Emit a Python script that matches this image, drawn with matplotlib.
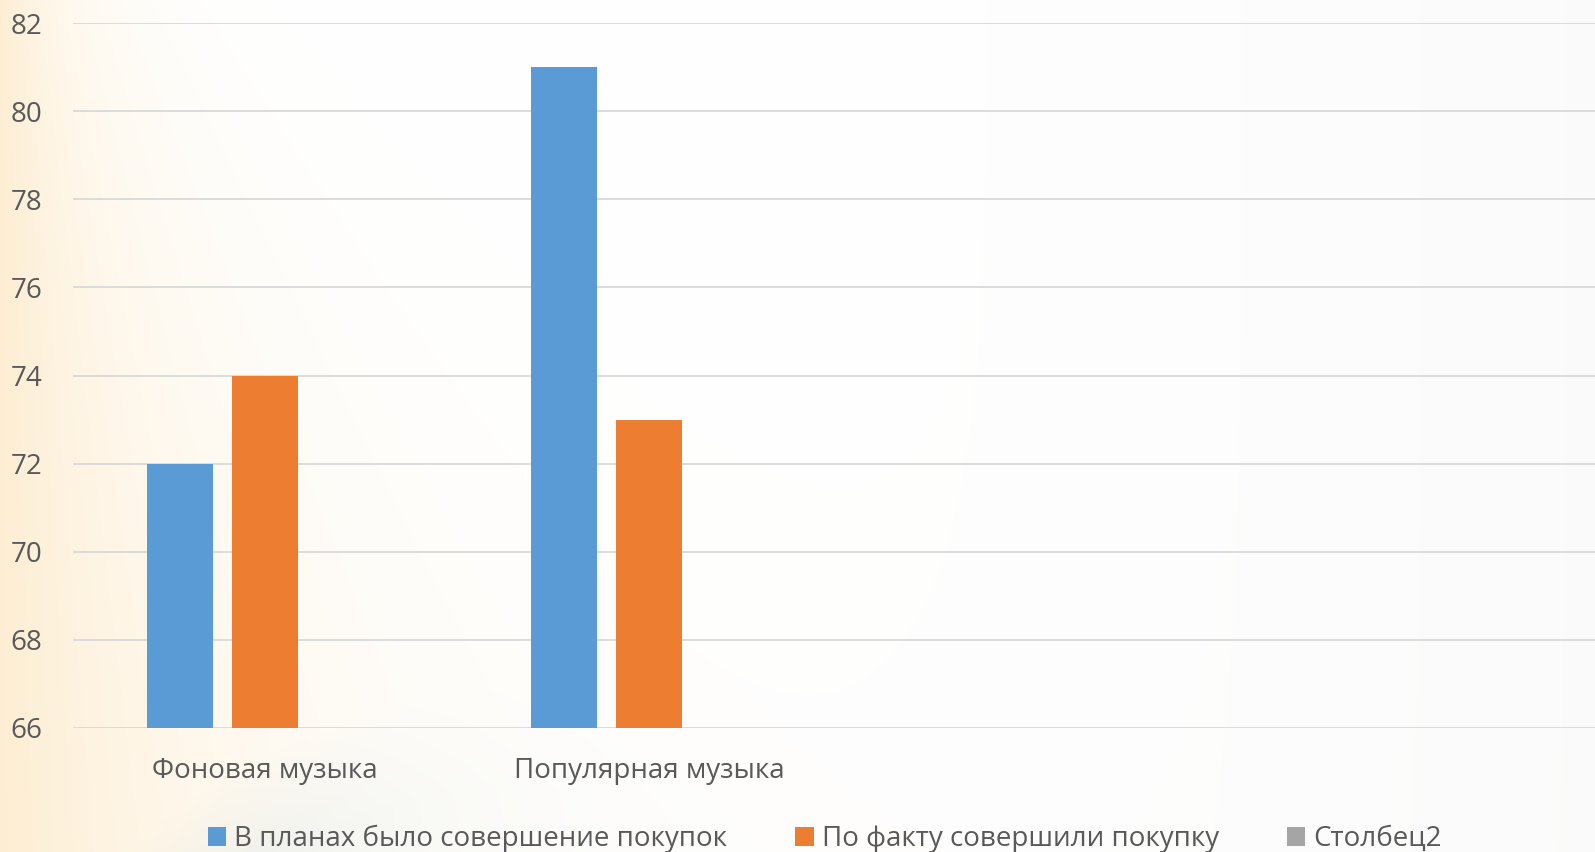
import numpy as np
import matplotlib
matplotlib.use("Agg")
import matplotlib.pyplot as plt
from matplotlib.patches import Patch

# --- data ---
categories = ["Фоновая музыка", "Популярная музыка", "", ""]
series_names = ["В планах было совершение покупок", "По факту совершили покупку", "Столбец2"]
planned = [72, 81, np.nan, np.nan]
actual = [74, 73, np.nan, np.nan]
column2 = [np.nan, np.nan, np.nan, np.nan]
y_ticks = [66, 68, 70, 72, 74, 76, 78, 80, 82]

colors = ["#5B9BD5", "#ED7D31", "#A5A5A5"]
text_color = "#595959"
grid_color = "#D9D9D9"

plt.rcParams["font.family"] = ["Open Sans", "DejaVu Sans"]

W, H = 1595, 852
fig = plt.figure(figsize=(W / 100, H / 100), dpi=100)

# soft slide background: warm tint at the left edge, cool arc at bottom-left
xx, yy = np.meshgrid(np.arange(W), np.arange(H))
img = np.ones((H, W, 3))
blue = np.array([200, 228, 246]) / 255
orange = np.array([253, 232, 196]) / 255
gray = np.array([238, 238, 238]) / 255

d = np.sqrt((xx - 520) ** 2 + (yy - 1250) ** 2)
a_blue = 0.4 * np.clip((560 - d) / 100, 0, 1) * np.exp(-np.clip(xx - 250, 0, None) / 140)
img = img * (1 - a_blue[..., None]) + blue * a_blue[..., None]

a_gray = 0.25 * (xx / W) ** 3
img = img * (1 - a_gray[..., None]) + gray * a_gray[..., None]

w = 70 + 0.22 * yy
a_or = 0.75 * np.exp(-xx / w)
img = img * (1 - a_or[..., None]) + orange * a_or[..., None]

bg = fig.add_axes([0, 0, 1, 1], zorder=-10)
bg.imshow(img, aspect="auto", extent=[0, 1, 0, 1], origin="upper")
bg.set_axis_off()

ax = fig.add_axes([73 / W, 1 - 728 / H, 1536 / W, 705 / H])
ax.patch.set_alpha(0)

x = np.arange(len(categories))
bw = 0.172
step = 0.221
for i, (vals, c) in enumerate(zip([planned, actual, column2], colors)):
    ax.bar(x + (i - 1) * step, vals, width=bw, color=c, zorder=3)

ax.set_xlim(-0.5, len(categories) - 0.5)
ax.set_ylim(66, 82)
ax.set_yticks(y_ticks)
ax.set_yticklabels([str(t) for t in y_ticks])
ax.set_xticks(x)
ax.set_xticklabels(categories)
ax.yaxis.grid(True, color=grid_color, linewidth=1.3, zorder=0)
ax.set_axisbelow(True)
for s in ax.spines.values():
    s.set_visible(False)
ax.tick_params(axis="y", length=0, pad=22, labelsize=20, labelcolor=text_color)
ax.tick_params(axis="x", length=0, pad=21, labelsize=20, labelcolor=text_color)

handles = [Patch(facecolor=c, edgecolor="none") for c in colors]
fig.legend(handles, series_names, loc="center", bbox_to_anchor=(825 / W, 13 / H),
           ncol=3, frameon=False, fontsize=20, labelcolor=text_color,
           handlelength=0.65, handleheight=0.65, handletextpad=0.3,
           columnspacing=2.45, borderaxespad=0, borderpad=0)

fig.savefig("out.png", dpi=100)
